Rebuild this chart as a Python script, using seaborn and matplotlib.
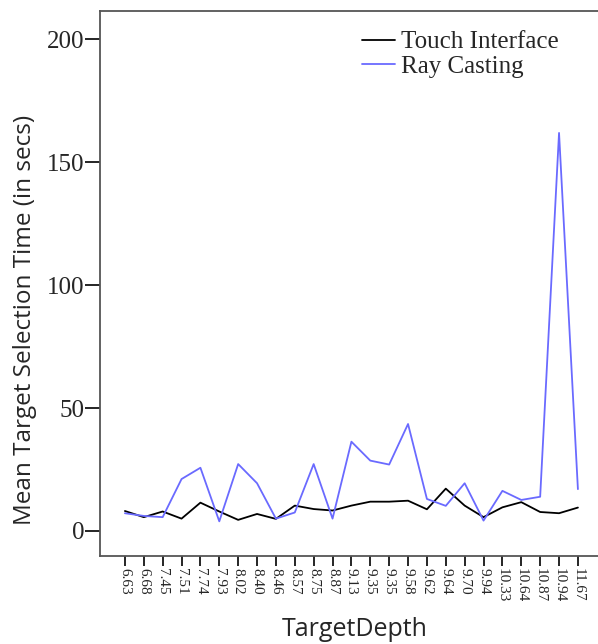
import matplotlib
matplotlib.use("Agg")
import matplotlib.pyplot as plt
import numpy as np
import pandas as pd
import seaborn as sns

# Target depth categories (one label repeats, so positions are indices)
depth_labels = ["6.63", "6.68", "7.45", "7.51", "7.74", "7.93", "8.02", "8.40",
                "8.46", "8.57", "8.75", "8.87", "9.13", "9.35", "9.35", "9.58",
                "9.62", "9.64", "9.70", "9.94", "10.33", "10.64", "10.87",
                "10.94", "11.67"]

touch_times = [8.1, 5.6, 7.9, 5.0, 11.5, 7.9, 4.5, 6.9, 4.9, 10.3, 8.9, 8.3,
               10.3, 11.9, 11.9, 12.3, 8.8, 17.2, 10.3, 5.6, 9.6, 11.7, 7.7,
               7.2, 9.5]

ray_times = [7.2, 6.1, 5.6, 21.1, 25.7, 3.9, 27.2, 19.4, 5.0, 7.5, 27.2, 5.0,
             36.3, 28.6, 27.0, 43.5, 13.0, 10.2, 19.4, 4.2, 16.3, 12.6, 13.9,
             161.9, 17.0]

series_names = ["Touch Interface", "Ray Casting"]
series_colors = ["#000000", "#6a6aff"]

pos = np.arange(len(depth_labels))
df = pd.concat([
    pd.DataFrame({"pos": pos, "time": touch_times, "method": series_names[0]}),
    pd.DataFrame({"pos": pos, "time": ray_times, "method": series_names[1]}),
])

sns.set_style("white")
serif = ["Liberation Serif", "DejaVu Serif"]
sans = ["Open Sans", "DejaVu Sans"]

fig = plt.figure(figsize=(5.98, 6.44), dpi=100)
ax = fig.add_axes([100 / 598, 1 - 556 / 644, 510 / 598, 545 / 644])

sns.lineplot(data=df, x="pos", y="time", hue="method",
             palette=dict(zip(series_names, series_colors)),
             linewidth=1.3, ax=ax, legend=True)

ax.set_xlim(-1.32, 25.7)
ax.set_ylim(-10.2, 211.5)
ax.set_yticks([0, 50, 100, 150, 200])
ax.set_yticklabels(["0", "50", "100", "150", "200"], family=serif, fontsize=18)
ax.set_xticks(pos)
ax.set_xticklabels(depth_labels, rotation=-90, family=serif, fontsize=11)

ax.tick_params(axis="y", direction="out", length=11, width=1.2, color="black",
               left=True, pad=0)
ax.tick_params(axis="x", direction="out", length=7, width=1.2, color="black",
               bottom=True, pad=2)

for side in ["left", "bottom", "top", "right"]:
    ax.spines[side].set_color("#555555")
    ax.spines[side].set_linewidth(1.3)

ax.set_xlabel("TargetDepth", family=sans, fontsize=18, labelpad=10)
ax.set_ylabel("Mean Target Selection Time (in secs)", family=sans, fontsize=17.5)
ax.yaxis.set_label_coords(-0.124, 0.433)

leg = ax.legend(loc="upper left", bbox_to_anchor=(0.475, 1.0), frameon=False,
                prop={"family": serif, "size": 18}, handlelength=1.3,
                handletextpad=0.25, labelspacing=0.08, borderpad=0.3)
for line in leg.get_lines():
    line.set_linewidth(1.3)

fig.savefig("out.png", dpi=100)
